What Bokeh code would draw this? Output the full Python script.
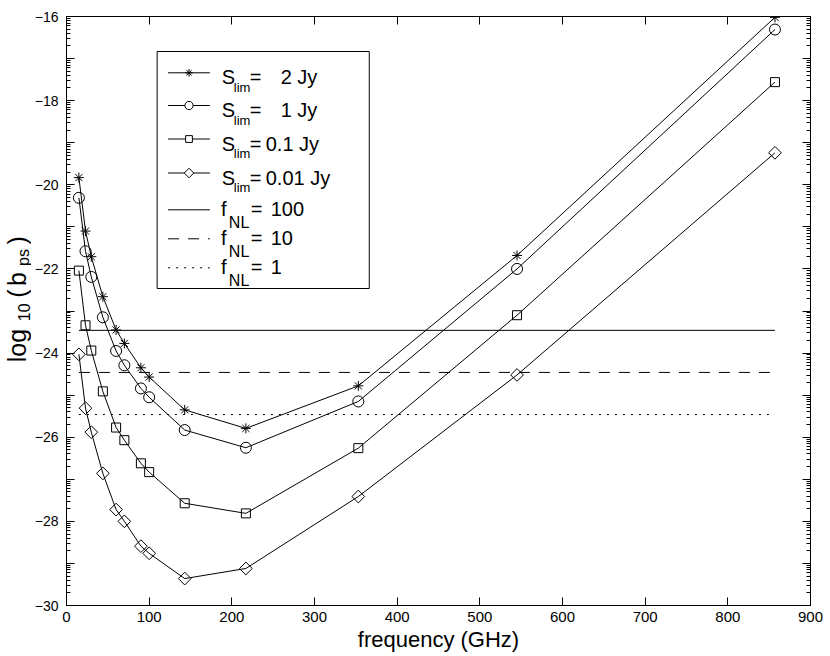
import math
from bokeh.plotting import figure
from bokeh.layouts import row
from bokeh.models import Range1d, LinearAxis, FixedTicker, CustomJSTickFormatter, Label
from bokeh.embed import file_html
from bokeh.resources import INLINE

# ---------------- data ----------------
freq = [15, 23, 30, 44, 60, 70, 90, 100, 143, 217, 353, 545, 857]
b_2jy = [-19.83, -21.10, -21.71, -22.66, -23.45, -23.77, -24.35, -24.57, -25.35, -25.79, -24.78, -21.68, -16.02]
b_1jy = [-20.31, -21.58, -22.19, -23.15, -23.95, -24.29, -24.84, -25.05, -25.83, -26.25, -25.15, -22.00, -16.31]
b_01jy = [-22.04, -23.34, -23.94, -24.91, -25.77, -26.07, -26.62, -26.83, -27.57, -27.81, -26.26, -23.10, -17.56]
b_001jy = [-24.03, -25.31, -25.88, -26.86, -27.72, -28.00, -28.59, -28.76, -29.36, -29.12, -27.41, -24.52, -19.24]
fnl_levels = [-23.46, -24.46, -25.46]
fnl_x = [15, 857]
x_ticks = [0, 100, 200, 300, 400, 500, 600, 700, 800, 900]
y_ticks = list(range(-30, -15))
s_values = ["2 Jy", "1 Jy", "0.1 Jy", "0.01 Jy"]
f_values = ["100", "10", "1"]

FONT = "Liberation Sans"

# page geometry (pixels)
TOTAL_H = 655
LAB_W = 31                      # narrow strip that carries the y-axis title
FL, FR, FT, FB = 63.0, 810.0, 16.0, 605.0   # plot frame in page pixels
XMIN, XMAX, YMIN, YMAX = 0.0, 900.0, -30.0, -16.0


def dx(px):
    return XMIN + (px - FL) / (FR - FL) * (XMAX - XMIN)


def dy(py):
    return YMAX - (py - FT) / (FB - FT) * (YMAX - YMIN)


frame_w = int(FR - FL)
frame_h = int(FB - FT)
border_l = int(FL) - LAB_W
main_w = 826 - LAB_W

p = figure(width=main_w, height=TOTAL_H,
           x_range=Range1d(XMIN, XMAX), y_range=Range1d(YMIN, YMAX),
           output_backend="svg", toolbar_location=None,
           min_border_left=border_l, min_border_right=main_w - border_l - frame_w,
           min_border_top=int(FT), min_border_bottom=TOTAL_H - int(FT) - frame_h)
p.grid.visible = False
p.outline_line_color = "black"
p.background_fill_color = "white"
p.border_fill_color = "white"

minor_y = [k + math.log10(m) for k in range(-30, -16) for m in range(2, 10)]


def style_axis(ax, size="15px"):
    ax.axis_line_color = "black"
    ax.major_tick_line_color = "black"
    ax.minor_tick_line_color = "black"
    ax.major_tick_out = 0
    ax.minor_tick_out = 0
    ax.major_tick_in = 8
    ax.minor_tick_in = 4
    ax.major_label_text_font = FONT
    ax.major_label_text_color = "black"
    ax.major_label_text_font_size = size
    if size == "0px":
        ax.major_label_standoff = 0
        ax.formatter = CustomJSTickFormatter(code="return '';")


xb = p.xaxis[0]
xb.ticker = FixedTicker(ticks=x_ticks, minor_ticks=[])
style_axis(xb, "15px")
xb.major_label_standoff = 6
xb.axis_label = "frequency (GHz)"
xb.axis_label_text_font = FONT
xb.axis_label_text_font_size = "22px"
xb.axis_label_text_font_style = "normal"
xb.axis_label_text_color = "black"
xb.axis_label_standoff = 2

yl = p.yaxis[0]
yl.ticker = FixedTicker(ticks=y_ticks, minor_ticks=minor_y)
style_axis(yl, "14px")
yl.major_label_standoff = 8
yl.formatter = CustomJSTickFormatter(
    code="return (Math.abs(tick) % 2 === 0) ? '\u2212' + Math.abs(tick) : '';")

xt = LinearAxis(ticker=FixedTicker(ticks=x_ticks, minor_ticks=[]))
style_axis(xt, "0px")
p.add_layout(xt, "above")

yr = LinearAxis(ticker=FixedTicker(ticks=y_ticks, minor_ticks=minor_y))
style_axis(yr, "0px")
p.add_layout(yr, "right")

# ---------------- curves ----------------
series = [
    (b_2jy, "asterisk", 10, 0.0),
    (b_1jy, "circle", 11, 0.0),
    (b_01jy, "square", 9, 0.0),
    (b_001jy, "square", 9, math.pi / 4),   # MATLAB diamond
]
for ys, mk, sz, ang in series:
    p.line(freq, ys, line_color="black", line_width=1)
    p.scatter(freq, ys, marker=mk, size=sz, angle=ang, line_color="black",
              fill_color=None, line_width=1)

fnl_dash = ["solid", "11 9", "2 6"]
for lvl, dash in zip(fnl_levels, fnl_dash):
    p.line(fnl_x, [lvl] * len(fnl_x), line_color="black", line_width=1,
           line_dash=dash)

# ---------------- legend (hand made, MATLAB style) ----------------
p.quad(left=[dx(154)], right=[dx(367)], top=[dy(51)], bottom=[dy(288)],
       fill_color="white", line_color="black", line_width=1)


def txt(x, y, s, size):
    p.add_layout(Label(x=dx(x), y=dy(y), text=s, text_font=FONT,
                       text_font_size=size, text_align="left",
                       text_baseline="alphabetic", text_color="black"))


s_rows = [72.3, 105.0, 138.5, 172.5]
s_value_x = [278, 278, 263, 263]
for i, (ys, mk, sz, ang) in enumerate(series):
    ly = s_rows[i]
    yy = dy(ly)
    p.line([dx(165), dx(207)], [yy, yy], line_color="black", line_width=1)
    p.scatter([dx(186)], [yy], marker=mk, size=sz * 0.75, angle=ang,
              line_color="black", fill_color="white", line_width=1)
    txt(219, ly + 4.5, "S", "20px")
    txt(231, ly + 14.5, "lim", "13px")
    txt(247, ly + 4.5, "=", "20px")
    txt(s_value_x[i], ly + 4.5, s_values[i], "20px")

f_rows = [209.3, 238.3, 267.3]
for j, dash in enumerate(fnl_dash):
    ly = f_rows[j]
    yy = dy(ly)
    p.line([dx(165), dx(207)], [yy, yy], line_color="black", line_width=1,
           line_dash=dash)
    txt(218, ly - 1, "f", "20px")
    txt(226, ly + 12.4, "NL", "16px")
    txt(248, ly - 1, "=", "20px")
    txt(268, ly - 1, f_values[j], "20px")

# ---------------- y-axis title strip (log10( b_ps ) with subscripts) ----------------
lab = figure(width=LAB_W, height=TOTAL_H, x_range=Range1d(0, LAB_W),
             y_range=Range1d(0, TOTAL_H), output_backend="svg",
             toolbar_location=None, x_axis_type=None, y_axis_type=None,
             min_border=0, min_border_left=0, min_border_right=0,
             min_border_top=0, min_border_bottom=0)
lab.grid.visible = False
lab.outline_line_color = None
lab.background_fill_color = "white"
lab.border_fill_color = "white"

# (text, centre y in page px, centre x in page px, font size)
ylab = [
    ("log", 366, 16.5, "25px"),
    ("10", 329, 23.0, "16px"),
    ("(", 308, 16.5, "25px"),
    ("b", 292, 16.5, "25px"),
    ("ps", 268, 23.0, "16px"),
    (")", 249, 16.5, "25px"),
]
for t, py, px, fs in ylab:
    lab.add_layout(Label(x=px, y=TOTAL_H - py, text=t, text_font=FONT,
                         text_font_size=fs, text_align="center",
                         text_baseline="middle", angle=math.pi / 2,
                         text_color="black"))

layout = row(lab, p, spacing=0)
open("out.html", "w").write(file_html(layout, INLINE))
